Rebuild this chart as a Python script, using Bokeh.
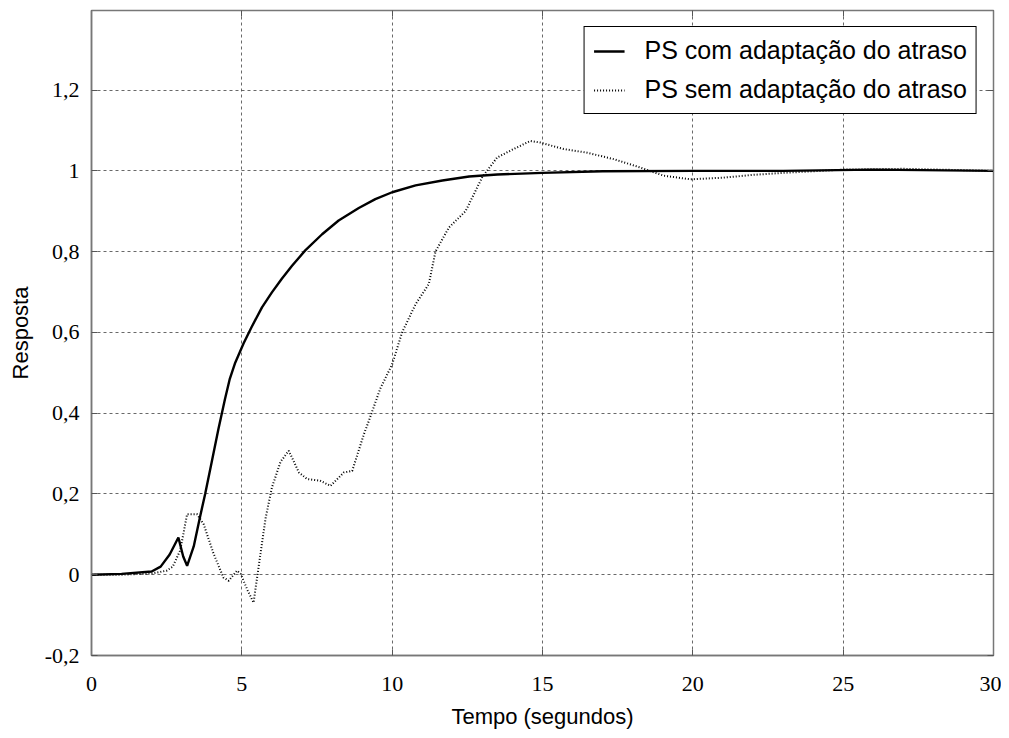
from bokeh.plotting import figure
from bokeh.models import FixedTicker, LinearAxis, Range1d, Legend, LegendItem, CustomJSTickFormatter
from bokeh.embed import file_html
from bokeh.resources import INLINE

# Series: PS com adaptação do atraso (solid)
t_com = [0, 1.0, 2.0, 2.3, 2.6, 2.89, 3.05, 3.18, 3.4, 3.6, 3.78, 4.0, 4.22, 4.44, 4.6, 4.78, 5.06, 5.33,
         5.67, 6.0, 6.33, 6.67, 7.11, 7.67, 8.22, 8.89, 9.44, 10.0, 10.78, 11.67, 12.56, 13.5, 15.0, 17.0,
         20.0, 23.0, 26.0, 30.0]
y_com = [0, 0.002, 0.008, 0.02, 0.05, 0.092, 0.045, 0.022, 0.07, 0.14, 0.2, 0.28, 0.36, 0.435, 0.485,
         0.525, 0.573, 0.614, 0.662, 0.699, 0.733, 0.765, 0.803, 0.843, 0.877, 0.908, 0.930, 0.947, 0.964,
         0.976, 0.986, 0.991, 0.995, 0.999, 1.0, 1.0, 1.003, 1.0]

# Series: PS sem adaptação do atraso (dotted)
t_sem = [0, 1.0, 2.0, 2.5, 2.7, 2.95, 3.18, 3.51, 3.73, 4.06, 4.39, 4.56, 4.84, 4.96, 5.2, 5.39, 5.62, 5.79,
         6.0, 6.29, 6.56, 6.9, 7.17, 7.6, 7.95, 8.39, 8.67, 9.06, 9.22, 9.6, 10.0, 10.33, 10.78, 11.22, 11.44,
         11.89, 12.44, 13.0, 13.49, 14.04, 14.6, 14.93, 15.7, 16.48, 17.37, 18.26, 19.03, 19.92, 21.0, 22.0,
         23.0, 25.0, 27.0, 30.0]
y_sem = [0, 0.0, 0.003, 0.01, 0.02, 0.06, 0.15, 0.15, 0.125, 0.052, -0.007, -0.015, 0.01, 0.002, -0.04,
         -0.069, 0.052, 0.14, 0.216, 0.28, 0.307, 0.253, 0.237, 0.233, 0.22, 0.253, 0.257, 0.348, 0.38, 0.46,
         0.521, 0.6, 0.67, 0.72, 0.80, 0.86, 0.90, 0.985, 1.033, 1.054, 1.074, 1.07, 1.054, 1.045, 1.029,
         1.008, 0.988, 0.979, 0.983, 0.99, 0.995, 1.003, 1.005, 1.0]

x_ticks = [0, 5, 10, 15, 20, 25, 30]
y_ticks = [-0.2, 0, 0.2, 0.4, 0.6, 0.8, 1.0, 1.2]
y_tick_labels = ["-0,2", "0", "0,2", "0,4", "0,6", "0,8", "1", "1,2"]

legend_labels = ["PS com adaptação do atraso", "PS sem adaptação do atraso"]
x_title = "Tempo (segundos)"
y_title = "Resposta"

p = figure(frame_width=902, frame_height=645, output_backend="svg", toolbar_location=None,
           x_range=Range1d(0, 30), y_range=Range1d(-0.2, 1.397),
           min_border_left=91, min_border_right=8, min_border_top=10, min_border_bottom=78,
           x_axis_label=x_title, y_axis_label=y_title)
p.outline_line_color = "#777777"
p.outline_line_width = 1.5
p.background_fill_color = "white"
p.border_fill_color = "white"

serif = "Liberation Serif"
sans = "Liberation Sans"

p.xaxis.ticker = FixedTicker(ticks=x_ticks)
p.yaxis.ticker = FixedTicker(ticks=y_ticks)
p.yaxis.major_label_overrides = {v: s for v, s in zip(y_ticks, y_tick_labels)}
for ax in (p.xaxis[0], p.yaxis[0]):
    ax.major_tick_in = 6
    ax.major_tick_out = 0
    ax.minor_tick_line_color = None
    ax.axis_line_color = "#777777"
    ax.axis_line_width = 1.5
    ax.major_tick_line_color = "#555555"
    ax.major_label_text_font = serif
    ax.major_label_text_font_size = "22px"
    ax.major_label_text_color = "black"
    ax.axis_label_text_font = sans
    ax.axis_label_text_font_size = "22px"
    ax.axis_label_text_font_style = "normal"
    ax.axis_label_text_color = "black"
p.xaxis.major_label_standoff = 21
p.xaxis.axis_label_standoff = 10
p.yaxis.major_label_standoff = 12
p.yaxis.axis_label_standoff = 9

# Mirror ticks on top/right (box style), no labels
blank = CustomJSTickFormatter(code="return '';")
top = LinearAxis(ticker=FixedTicker(ticks=x_ticks), formatter=blank,
                 major_tick_in=6, major_tick_out=0, minor_tick_line_color=None, major_label_standoff=0,
                 axis_line_color="#777777", major_tick_line_color="#555555")
right = LinearAxis(ticker=FixedTicker(ticks=y_ticks), formatter=blank,
                   major_tick_in=6, major_tick_out=0, minor_tick_line_color=None, major_label_standoff=0,
                   axis_line_color="#777777", major_tick_line_color="#555555")
p.add_layout(top, "above")
p.add_layout(right, "right")

for g in (p.xgrid[0], p.ygrid[0]):
    g.grid_line_color = "#444444"
    g.grid_line_dash = "3 3"
    g.grid_line_width = 1
    g.grid_line_alpha = 0.8
p.xgrid.ticker = FixedTicker(ticks=x_ticks)
p.ygrid.ticker = FixedTicker(ticks=y_ticks)

r1 = p.line(t_com, y_com, line_color="black", line_width=2.4)
r2 = p.line(t_sem, y_sem, line_color="black", line_width=2, line_dash="1 2")

legend = Legend(items=[LegendItem(label=legend_labels[0], renderers=[r1]),
                       LegendItem(label=legend_labels[1], renderers=[r2])],
                location="top_right")
legend.label_text_font = sans
legend.label_text_font_size = "25px"
legend.label_text_color = "black"
legend.border_line_color = "black"
legend.border_line_alpha = 1
legend.border_line_width = 1.5
legend.glyph_width = 31
legend.glyph_height = 26
legend.padding = 9
legend.spacing = 10
legend.margin = 16
legend.label_height = 26
legend.label_standoff = 20
legend.background_fill_alpha = 1
p.add_layout(legend)

open("out.html", "w").write(file_html(p, INLINE))
